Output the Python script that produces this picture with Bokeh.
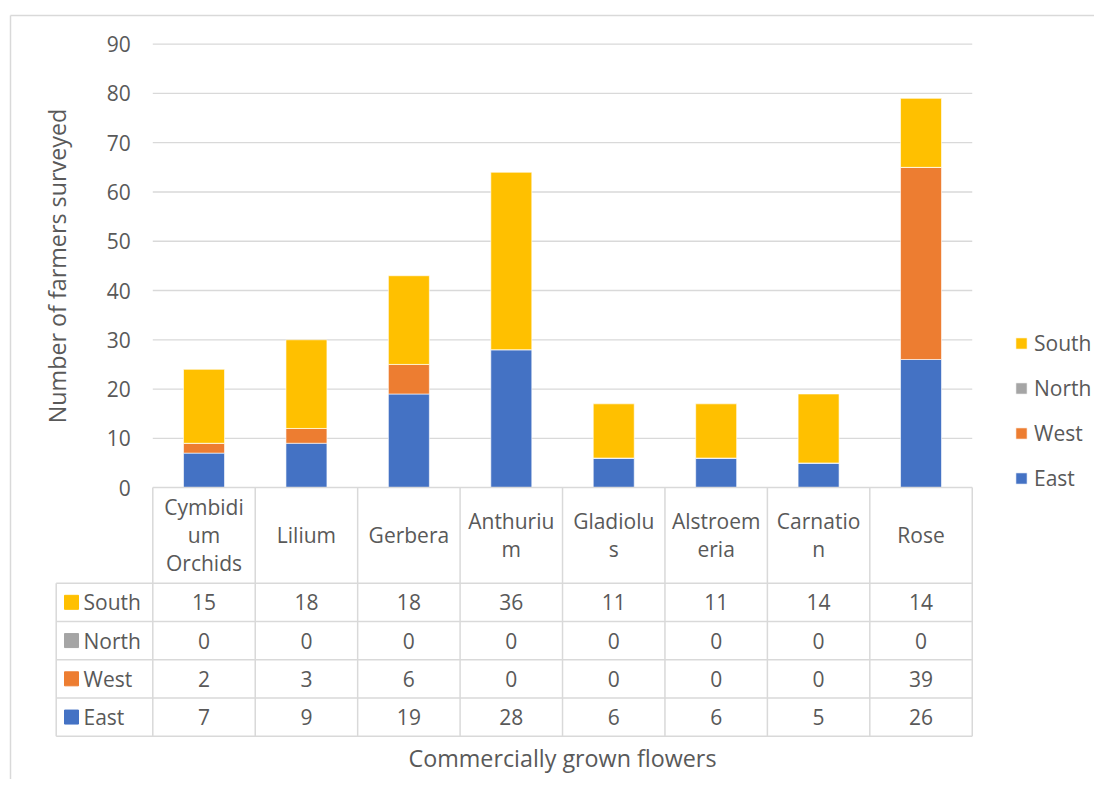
from bokeh.plotting import figure
from bokeh.models import (Range1d, LinearAxis, FixedTicker, Legend, LegendItem,
                          ColumnDataSource)
from bokeh.core.properties import value
from bokeh.embed import file_html
from bokeh.resources import INLINE

# ---------------- data ----------------
categories = ["Cymbidium Orchids", "Lilium", "Gerbera", "Anthurium",
              "Gladiolus", "Alstroemeria", "Carnation", "Rose"]
header_labels = ["Cymbidi\num\nOrchids", "Lilium", "Gerbera", "Anthuriu\nm",
                 "Gladiolu\ns", "Alstroem\neria", "Carnatio\nn", "Rose"]
east = [7, 9, 19, 28, 6, 6, 5, 26]
west = [2, 3, 6, 0, 0, 0, 0, 39]
north = [0, 0, 0, 0, 0, 0, 0, 0]
south = [15, 18, 18, 36, 11, 11, 14, 14]
regions = ["East", "West", "North", "South"]
region_colors = ["#4472C4", "#ED7D31", "#A5A5A5", "#FFC000"]
y_ticks = [0, 10, 20, 30, 40, 50, 60, 70, 80, 90]
y_title = "Number of farmers surveyed"
x_title = "Commercially grown flowers"

# ---------------- layout (pixels) ----------------
FONT = "Open Sans"
FS = "21px"
TITLE_FS = "23.3px"
TXT = "#595959"
LINE = "#d9d9d9"
W, H = 1094, 779
BORDER_L, BORDER_T = 10, 15
X0_PX, CAT_W = 152.3, 102.43
Y0_PX, UNIT = 487.1, 4.927
TABLE_L = 55.7
HEADER_B = 582.7
ROW_H = 38.25


def dx(px):
    return (px - X0_PX) / CAT_W


def dy(py):
    return (Y0_PX - py) / UNIT


n = len(categories)
p = figure(width=W, height=H,
           x_range=Range1d(dx(0), dx(W)),
           y_range=Range1d(dy(H), dy(0)),
           x_axis_type=None, y_axis_type=None,
           output_backend="svg", toolbar_location=None,
           min_border_left=0, min_border_top=0,
           min_border_right=0, min_border_bottom=0)
p.outline_line_color = None
p.background_fill_color = "white"
p.border_fill_color = "white"

# chart area border
p.segment(x0=[dx(BORDER_L), dx(BORDER_L)], x1=[dx(BORDER_L), dx(W)],
          y0=[dy(BORDER_T), dy(BORDER_T)], y1=[dy(H), dy(BORDER_T)],
          line_color=LINE, line_width=1.5)

# gridlines (from y ticks)
grid_vals = [t for t in y_ticks if t > 0]
p.segment(x0=[0] * len(grid_vals), x1=[n] * len(grid_vals),
          y0=grid_vals, y1=grid_vals, line_color=LINE, line_width=1.3)

# stacked bars
src = ColumnDataSource(dict(x=[i + 0.5 for i in range(n)], East=east,
                            West=west, North=north, South=south))
rends = p.vbar_stack(regions, x="x", width=0.4, color=region_colors,
                     line_color="white", line_width=0.6, source=src)

# ---------------- data table ----------------
rows_top_to_bottom = list(reversed(regions))
row_values = {"East": east, "West": west, "North": north, "South": south}
row_colors = dict(zip(regions, region_colors))
row_centers = [dy(HEADER_B + ROW_H * (k + 0.5)) for k in range(len(regions))]
row_lines = [dy(HEADER_B + ROW_H * k) for k in range(len(regions) + 1)]
table_bottom = row_lines[-1]

# vertical lines of the table
p.segment(x0=list(range(n + 1)), x1=list(range(n + 1)),
          y0=[0] * (n + 1), y1=[table_bottom] * (n + 1),
          line_color=LINE, line_width=1.5)
p.segment(x0=[dx(TABLE_L)], x1=[dx(TABLE_L)], y0=[row_lines[0]],
          y1=[table_bottom], line_color=LINE, line_width=1.5)
# horizontal lines
p.segment(x0=[0], x1=[n], y0=[0], y1=[0], line_color=LINE, line_width=1.5)
p.segment(x0=[dx(TABLE_L)] * len(row_lines), x1=[n] * len(row_lines),
          y0=row_lines, y1=row_lines, line_color=LINE, line_width=1.5)

# header (category names)
p.text(x=[i + 0.5 for i in range(n)], y=[dy((Y0_PX + HEADER_B) / 2)] * n,
       text=header_labels, text_align="center", text_baseline="middle",
       text_font=value(FONT), text_font_size=FS, text_color=TXT,
       text_line_height=1.0)

# cell values
cx, cy, ct = [], [], []
for k, r in enumerate(rows_top_to_bottom):
    for i in range(n):
        cx.append(i + 0.5)
        cy.append(row_centers[k])
        ct.append(str(row_values[r][i]))
p.text(x=cx, y=cy, text=ct, text_align="center", text_baseline="middle",
       text_font=value(FONT), text_font_size=FS, text_color=TXT)

# row headers with colour keys
p.scatter(x=[dx(71)] * len(regions), y=row_centers, marker="square", size=14,
          color=[row_colors[r] for r in rows_top_to_bottom])
p.text(x=[dx(83)] * len(regions), y=row_centers, text=rows_top_to_bottom,
       text_align="left", text_baseline="middle", text_font=value(FONT),
       text_font_size=FS, text_color=TXT)

# ---------------- axes ----------------
yaxis = LinearAxis(fixed_location=0, ticker=FixedTicker(ticks=y_ticks),
                   bounds=(0, 90), axis_label=y_title,
                   axis_line_color=None, major_tick_line_color=None,
                   minor_tick_line_color=None, major_tick_out=0,
                   minor_tick_out=0, major_label_standoff=22,
                   axis_label_standoff=30)
yaxis.major_label_text_font = FONT
yaxis.major_label_text_font_size = FS
yaxis.major_label_text_color = TXT
yaxis.axis_label_text_font = FONT
yaxis.axis_label_text_font_size = TITLE_FS
yaxis.axis_label_text_font_style = "normal"
yaxis.axis_label_text_color = TXT
p.add_layout(yaxis, "left")

xaxis = LinearAxis(fixed_location=table_bottom, ticker=FixedTicker(ticks=[]),
                   bounds=(0, n), axis_label=x_title,
                   axis_line_color=None, major_tick_line_color=None,
                   minor_tick_line_color=None, major_tick_out=0,
                   minor_tick_out=0, major_label_standoff=0,
                   axis_label_standoff=5)
xaxis.major_label_text_font_size = "0px"
xaxis.axis_label_text_font = FONT
xaxis.axis_label_text_font_size = TITLE_FS
xaxis.axis_label_text_font_style = "normal"
xaxis.axis_label_text_color = TXT
p.add_layout(xaxis, "below")

# ---------------- legend ----------------
items = [LegendItem(label=r, renderers=[rends[regions.index(r)]])
         for r in rows_top_to_bottom]
legend = Legend(items=items, location=(1014, H - 491.5),
                orientation="vertical", glyph_width=14, glyph_height=14,
                label_standoff=6, label_height=27, spacing=17, padding=0,
                margin=0, border_line_color=None, background_fill_alpha=0,
                label_text_font=FONT, label_text_font_size=FS,
                label_text_color=TXT)
p.add_layout(legend)

open("out.html", "w").write(file_html(p, INLINE))
